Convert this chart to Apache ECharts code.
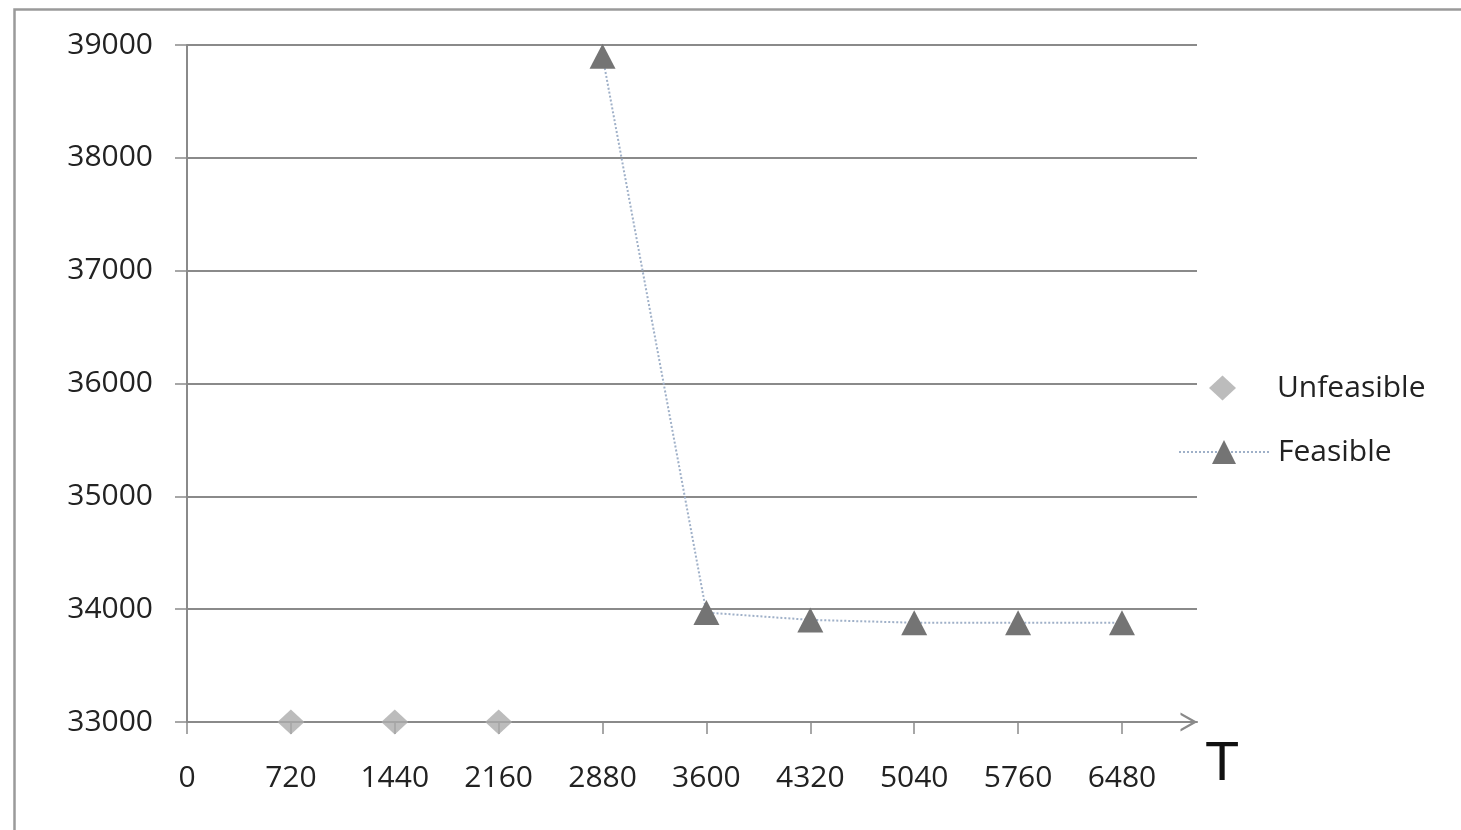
<!DOCTYPE html>
<html>
<head>
<meta charset="utf-8">
<script src="https://cdn.jsdelivr.net/npm/echarts@6/dist/echarts.min.js"></script>
<style>
html,body{margin:0;padding:0;background:#fff;}
#chart{width:1461px;height:830px;}
</style>
</head>
<body>
<div id="chart"></div>
<script>
// ---- data ----
var xTicks = [0, 720, 1440, 2160, 2880, 3600, 4320, 5040, 5760, 6480];
var unfeasibleT = [720, 1440, 2160];
var unfeasibleVal = [33000, 33000, 33000];
var feasibleT = [2880, 3600, 4320, 5040, 5760, 6480];
var feasibleVal = [38900, 33970, 33905, 33880, 33880, 33880];
var yTicks = [33000, 34000, 35000, 36000, 37000, 38000, 39000];
var seriesNames = ['Unfeasible', 'Feasible'];
var axisTitleX = 'T';

function pairs(xs, ys) { return xs.map(function (x, i) { return [x, ys[i]]; }); }
function plain(v) { return String(v); }

var FONT = 'Open Sans';
var TXT = '#222';
var GRID = '#8a8a8a';

var chart = echarts.init(document.getElementById('chart'), null, { renderer: 'canvas' });
chart.setOption({
  backgroundColor: '#fff',
  animation: false,
  grid: { left: 187, top: 45, right: 264, bottom: 108, containLabel: false },
  xAxis: {
    type: 'value', min: 0, max: 7000,
    axisLine: {
      show: true, lineStyle: { color: GRID, width: 2 },
      symbol: ['none', 'path://M0,16 L9,0 L18,16 L15.5,16 L9,4.5 L2.5,16 Z'],
      symbolSize: [22, 17], symbolOffset: [0, -8]
    },
    axisTick: { show: true, length: 12, lineStyle: { color: GRID, width: 1.5 }, customValues: xTicks },
    axisLabel: { customValues: xTicks, formatter: plain, margin: 41, fontFamily: FONT, fontSize: 30, color: TXT },
    splitLine: { show: false }
  },
  yAxis: {
    type: 'value', min: yTicks[0], max: yTicks[yTicks.length - 1], interval: 1000,
    axisLine: { show: true, lineStyle: { color: GRID, width: 2 } },
    axisTick: { show: true, length: 12, lineStyle: { color: GRID, width: 1.5 } },
    axisLabel: { formatter: plain, margin: 34, fontFamily: FONT, fontSize: 30, color: TXT },
    splitLine: { show: true, lineStyle: { color: GRID, width: 2 } }
  },
  legend: [
    {
      data: [seriesNames[0]], orient: 'vertical', left: 1204, top: 368,
      itemWidth: 27, itemHeight: 25,
      textStyle: { fontFamily: FONT, fontSize: 30, color: TXT, padding: [0, 0, 0, 36] }
    },
    {
      data: [seriesNames[1]], orient: 'vertical', left: 1173, top: 432,
      itemWidth: 90, itemHeight: 30,
      textStyle: { fontFamily: FONT, fontSize: 30, color: TXT, padding: [0, 0, 0, 4] }
    }
  ],
  graphic: [
    { type: 'rect', left: 12, top: 7, shape: { width: 1480, height: 860 }, style: { fill: 'none', stroke: '#9a9a9a', lineWidth: 2.5 }, silent: true },
    { type: 'text', left: 1205, top: 737, style: { text: axisTitleX, font: '56px "Liberation Sans"', fill: '#111' } }
  ],
  series: [
    {
      name: seriesNames[0], type: 'scatter', data: pairs(unfeasibleT, unfeasibleVal),
      symbol: 'diamond', symbolSize: [27, 25], clip: false,
      itemStyle: { color: '#ababab' }, z: 5
    },
    {
      name: seriesNames[1], type: 'line', data: pairs(feasibleT, feasibleVal),
      symbol: 'triangle', symbolSize: [26, 25], showAllSymbol: true, clip: false,
      lineStyle: { color: '#9fb0c8', width: 2, type: 'dotted' },
      itemStyle: { color: '#747474' }, z: 5
    }
  ]
});
</script>
</body>
</html>
